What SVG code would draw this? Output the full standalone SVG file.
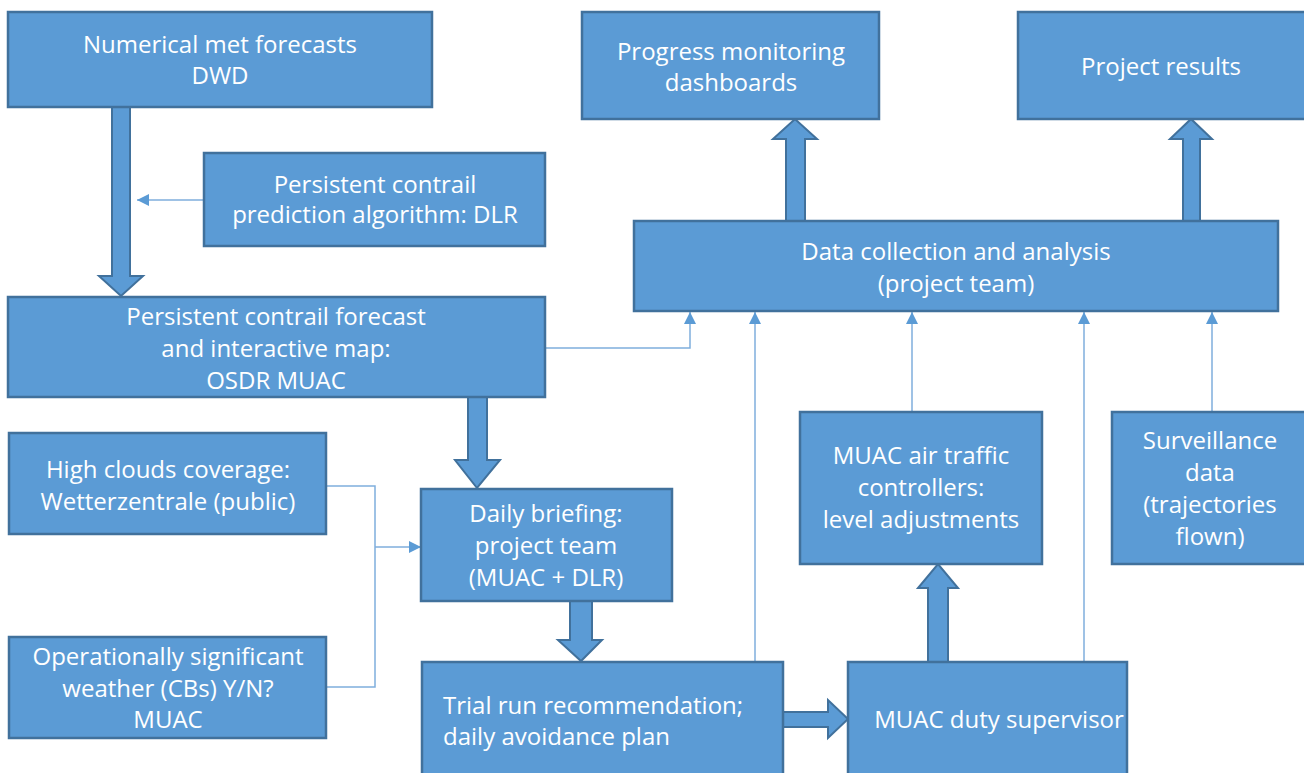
<svg xmlns="http://www.w3.org/2000/svg" width="1304" height="773" viewBox="0 0 1304 773">
<defs>
<style>
.box{fill:#5B9BD5;stroke:#41719C;stroke-width:2.5}
.t{font-family:"Open Sans","Liberation Sans",sans-serif;font-size:24px;fill:#FFFFFF;text-anchor:middle}
.tl{font-family:"Open Sans","Liberation Sans",sans-serif;font-size:24px;fill:#FFFFFF;text-anchor:start}
.thin{fill:none;stroke:#7FAEDD;stroke-width:1.5}
.fat{fill:#5B9BD5;stroke:#41719C;stroke-width:2;stroke-linejoin:miter}
</style>
<marker id="ah" viewBox="0 0 10 10" refX="10" refY="5" markerWidth="12" markerHeight="12" markerUnits="userSpaceOnUse" orient="auto">
<path d="M0,0 L10,5 L0,10 z" fill="#5B9BD5"/>
</marker>
</defs>
<rect width="1304" height="773" fill="#FFFFFF"/>

<g id="connectors">
<path class="fat" d="M112,107 L130,107 L130,276 L143,276 L121,296 L99,276 L112,276 z"/>
<path class="thin" d="M204,200 L137,200" marker-end="url(#ah)"/>
<path class="thin" d="M545,348 L690,348 L690,312" marker-end="url(#ah)"/>
<path class="fat" d="M468,397 L487,397 L487,460 L500,460 L477,488 L455,460 L468,460 z"/>
<path class="thin" d="M326,486 L375,486 L375,687 L326,687"/>
<path class="thin" d="M375,547 L421,547" marker-end="url(#ah)"/>
<path class="fat" d="M570,601 L592,601 L592,640 L602,640 L581,661 L558,640 L570,640 z"/>
<path class="fat" d="M783,712 L828,712 L828,700 L848,719 L828,738 L828,727 L783,727 z"/>
<path class="fat" d="M928,662 L948,662 L948,588 L958,588 L938,564 L918,588 L928,588 z"/>
<path class="thin" d="M755,662 L755,312" marker-end="url(#ah)"/>
<path class="thin" d="M912,411 L912,312" marker-end="url(#ah)"/>
<path class="thin" d="M1084,662 L1084,312" marker-end="url(#ah)"/>
<path class="thin" d="M1212,411 L1212,312" marker-end="url(#ah)"/>
<path class="fat" d="M786,221 L805,221 L805,139 L817,139 L795,119 L773,139 L786,139 z"/>
<path class="fat" d="M1183,221 L1200,221 L1200,139 L1212,139 L1191,119 L1170,139 L1183,139 z"/>
</g>

<g id="n-dwd">
<rect class="box" x="8" y="12" width="424" height="95"/>
<text class="t" x="220" y="53">Numerical met forecasts</text>
<text class="t" x="220" y="84">DWD</text>
</g>
<g id="n-algo">
<rect class="box" x="204" y="153" width="341" height="93"/>
<text class="t" x="375" y="193">Persistent contrail</text>
<text class="t" x="375" y="223">prediction algorithm: DLR</text>
</g>
<g id="n-forecast">
<rect class="box" x="8" y="297" width="537" height="100"/>
<text class="t" x="276" y="325">Persistent contrail forecast</text>
<text class="t" x="276" y="357">and interactive map:</text>
<text class="t" x="276" y="389">OSDR MUAC</text>
</g>
<g id="n-clouds">
<rect class="box" x="9" y="433" width="317" height="101"/>
<text class="t" x="168" y="478">High clouds coverage:</text>
<text class="t" x="168" y="510">Wetterzentrale (public)</text>
</g>
<g id="n-weather">
<rect class="box" x="9" y="637" width="317" height="101"/>
<text class="t" x="168" y="665">Operationally significant</text>
<text class="t" x="168" y="697">weather (CBs) Y/N?</text>
<text class="t" x="168" y="728">MUAC</text>
</g>
<g id="n-briefing">
<rect class="box" x="421" y="489" width="251" height="112"/>
<text class="t" x="546" y="522">Daily briefing:</text>
<text class="t" x="546" y="554">project team</text>
<text class="t" x="546" y="586">(MUAC + DLR)</text>
</g>
<g id="n-trial">
<rect class="box" x="422" y="662" width="361" height="115"/>
<text class="tl" x="443" y="714">Trial run recommendation;</text>
<text class="tl" x="443" y="745">daily avoidance plan</text>
</g>
<g id="n-supervisor">
<rect class="box" x="848" y="662" width="279" height="115"/>
<text class="t" x="999" y="728">MUAC duty supervisor</text>
</g>
<g id="n-atc">
<rect class="box" x="800" y="412" width="242" height="152"/>
<text class="t" x="921" y="464">MUAC air traffic</text>
<text class="t" x="921" y="496">controllers:</text>
<text class="t" x="921" y="528">level adjustments</text>
</g>
<g id="n-surveillance">
<rect class="box" x="1112" y="412" width="194" height="152"/>
<text class="t" x="1210" y="449">Surveillance</text>
<text class="t" x="1210" y="481">data</text>
<text class="t" x="1210" y="513">(trajectories</text>
<text class="t" x="1210" y="545">flown)</text>
</g>
<g id="n-data">
<rect class="box" x="634" y="221" width="644" height="90"/>
<text class="t" x="956" y="260">Data collection and analysis</text>
<text class="t" x="956" y="292">(project team)</text>
</g>
<g id="n-dashboards">
<rect class="box" x="582" y="12" width="297" height="107"/>
<text class="t" x="731" y="60">Progress monitoring</text>
<text class="t" x="731" y="91">dashboards</text>
</g>
<g id="n-results">
<rect class="box" x="1018" y="12" width="288" height="107"/>
<text class="t" x="1161" y="75">Project results</text>
</g>
</svg>
